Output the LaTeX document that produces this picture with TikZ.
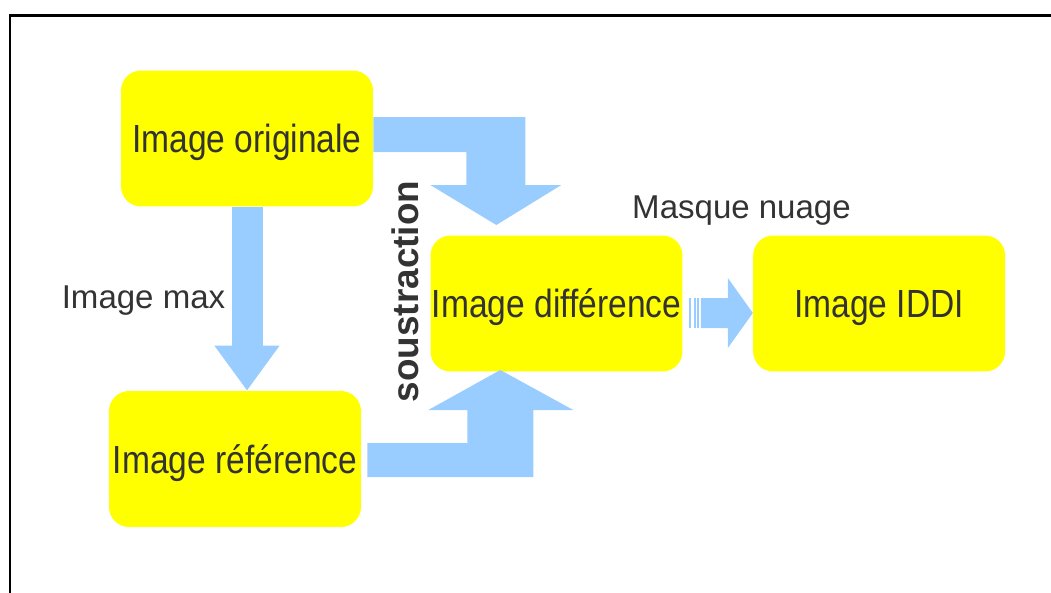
\documentclass[tikz,border=0pt]{standalone}
\usepackage{fontspec}
\setmainfont{Liberation Sans}
\usepackage{tikz}
\usetikzlibrary{arrows.meta, positioning, calc}
\definecolor{boxyellow}{RGB}{255,255,0}
\definecolor{flowblue}{RGB}{153,204,255}
\definecolor{textgray}{RGB}{51,51,51}
\newcommand{\tallbox}[1]{\scalebox{1}[1.17]{#1}}

\begin{document}
\begin{tikzpicture}[
        x=0.02cm, y=-0.02cm,
        box/.style={rectangle, fill=boxyellow, minimum width=5.04cm, minimum height=2.72cm, inner sep=0pt, rounded corners=0.4cm, align=center, text depth=0pt, text=textgray, font=\fontsize{19.1pt}{23pt}\selectfont},
        annot/.style={text=textgray, inner sep=0pt, font=\fontsize{18.8pt}{22pt}\selectfont},
        flow/.style={fill=flowblue},
        flowline/.style={draw=flowblue, line width=0.62cm, -{Triangle[length=0.9cm, width=1.24cm]}}
    ]
    \useasboundingbox (0,0) rectangle (1051,592);

    % Frame
    \draw[line width=0.06cm, black] (10,620) -- (10,15) -- (1080,15);

    % Images
    \node[box] (orig) at (247,138.5) {\tallbox{Image originale}};
    \node[box] (ref) at (235,459) {\tallbox{Image référence}};
    \node[box] (diff) at (556.5,303.5) {\tallbox{Image différence}};
    \node[box, right=1.4cm of diff] (iddi) {\tallbox{Image IDDI}};

    % Arrows
    \draw[flowline] (orig.south) -- (orig.south |- ref.north);
    \fill[flow] ($(orig.east)+(0,-21.5)$) -- ++(152,0) -- ++(0,68) -- ++(36,0) -- ++(-65,40) -- ++(-66,-40) -- ++(36,0) -- ++(0,-33) -- ++(-93,0) -- cycle;
    \fill[flow] ($(ref.east)+(6,18)$) -- ++(166,0) -- ++(0,-67) -- ++(40,0) -- ++(-73,-40) -- ++(-72,40) -- ++(39,0) -- ++(0,33) -- ++(-100,0) -- cycle;
    \foreach \dx/\w in {6/2, 11/2, 14.5/1.5}
        \fill[flow] ($(diff.east)+(\dx,-5.5)$) rectangle ++(\w,30);
    \fill[flow] ($(diff.east)+(18,-5.5)$) -- ++(27,0) -- ++(0,-20) -- ++(25,35) -- ++(-25,35) -- ++(0,-20) -- ++(-27,0) -- cycle;

    % Labels
    \node[annot, anchor=base] (maxlbl) at (143.5,308) {Image max};
    \node[annot, anchor=base] (masklbl) at (741.5,218) {Masque nuage};
    \node[annot, font=\fontsize{21pt}{25pt}\selectfont\bfseries, rotate=90, anchor=base] (sublbl) at (418,291.5) {soustraction};

\end{tikzpicture}
\end{document}
